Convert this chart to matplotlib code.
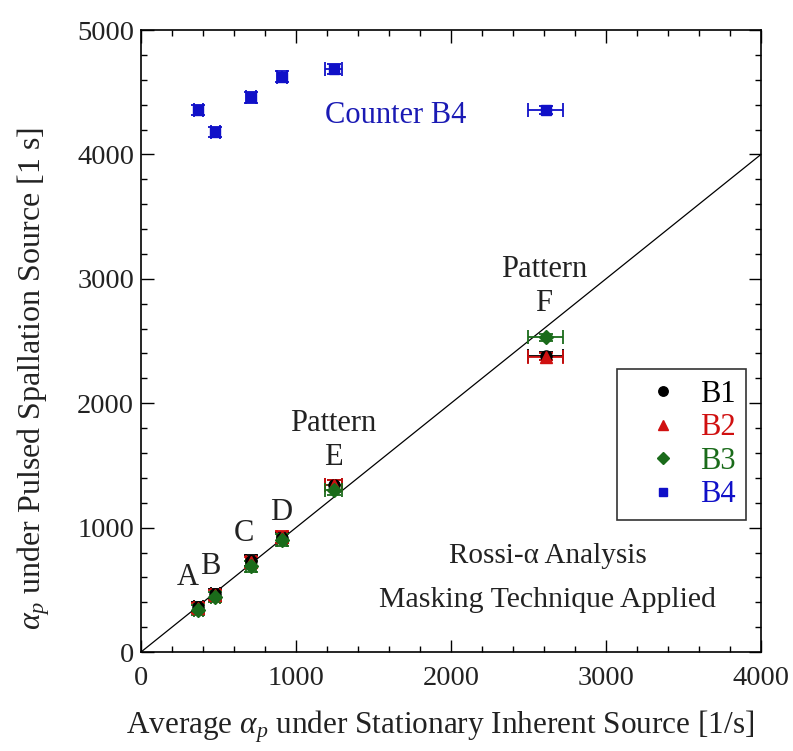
import matplotlib
matplotlib.use("Agg")
import matplotlib.pyplot as plt
from matplotlib.ticker import MultipleLocator
from matplotlib.lines import Line2D

plt.rcParams['font.family'] = ['Liberation Serif', 'DejaVu Serif']
plt.rcParams['mathtext.fontset'] = 'custom'
plt.rcParams['mathtext.rm'] = 'Liberation Serif'
plt.rcParams['mathtext.it'] = 'Liberation Serif:italic'

# Patterns A-F: average alpha under the stationary inherent source [1/s]
patterns = ["A", "B", "C", "D", "E", "F"]
x_avg = [370, 480, 710, 910, 1245, 2610]
x_err = [30, 30, 35, 35, 55, 113]

# alpha under the pulsed spallation source for each counter [1/s]
b1 = [360, 470, 735, 920, 1340, 2380]
b2 = [355, 460, 720, 925, 1345, 2375]
b3 = [335, 445, 690, 900, 1300, 2530]
b4 = [4360, 4180, 4460, 4625, 4685, 4357]
y_err = [40, 40, 45, 45, 40, 30]

series = [
    ("B1", b1, "o", "black", 8),
    ("B2", b2, "^", "#d01010", 8),
    ("B3", b3, "D", "#1a6b1a", 7),
    ("B4", b4, "s", "#1010c8", 7.5),
]

fig = plt.figure(figsize=(7.93, 7.51), dpi=100)
ax = fig.add_axes([0.1778, 0.1318, 0.7818, 0.8282])

# identity line
ax.plot([0, 4000], [0, 4000], color="black", lw=0.9)

handles = []
for name, yv, mk, col, ms in series:
    ax.errorbar(x_avg, yv, xerr=x_err, yerr=y_err, fmt=mk, color=col,
                ms=ms, capsize=5, elinewidth=1.3, capthick=1.3, zorder=3)
    handles.append(Line2D([], [], ls="none", marker=mk, color=col,
                          ms=ms * 0.85, label=name))

ax.set_xlim(0, 4000)
ax.set_ylim(0, 5000)
ax.xaxis.set_major_locator(MultipleLocator(1000))
ax.yaxis.set_major_locator(MultipleLocator(1000))
ax.xaxis.set_minor_locator(MultipleLocator(200))
ax.yaxis.set_minor_locator(MultipleLocator(200))
ax.tick_params(which="both", direction="in", top=True, right=True,
               labelsize=20.5, colors="black")
ax.tick_params(axis="x", which="major", pad=10)
ax.tick_params(axis="y", which="major", pad=5)
ax.tick_params(which="major", length=9, width=1)
ax.tick_params(which="minor", length=4.5, width=1)
for lab in ax.get_xticklabels() + ax.get_yticklabels():
    lab.set_color("#222222")
for sp in ax.spines.values():
    sp.set_linewidth(1.2)

ax.set_xlabel(r"Average $\alpha_{p}$ under Stationary Inherent Source [1/s]",
              fontsize=22.5, color="#222222")
ax.set_ylabel(r"$\alpha_{p}$ under Pulsed Spallation Source [1 s]",
              fontsize=23, color="#222222")
ax.xaxis.set_label_coords(0.482, -0.09)
ax.yaxis.set_label_coords(-0.143, 0.44)

leg = ax.legend(handles=handles, loc="upper left",
                bbox_to_anchor=(0.768, 0.455), fontsize=22,
                frameon=True, fancybox=False, edgecolor="black",
                handletextpad=0.05, borderpad=0.35, labelspacing=0.15,
                handlelength=2.3, borderaxespad=0)
leg.get_frame().set_linewidth(1.2)
for txt, (_, _, _, col, _) in zip(leg.get_texts(), series):
    txt.set_color(col)

ax.text(1645, 4310, "Counter B4", color="#1a1ab4", fontsize=22,
        ha="center", va="center")
ax.text(1240, 1700, "Pattern\nE", fontsize=22, ha="center", va="center",
        linespacing=1.25, color="#222222")
ax.text(2600, 2940, "Pattern\nF", fontsize=22, ha="center", va="center",
        linespacing=1.25, color="#222222")
for lab, lx, ly in [("A", 300, 600), ("B", 445, 690), ("C", 665, 950),
                    ("D", 905, 1125)]:
    ax.text(lx, ly, lab, fontsize=22, ha="center", va="center",
            color="#222222")
ax.text(2625, 770, "Rossi-\u03b1 Analysis", fontsize=21, ha="center",
        va="center", color="#222222")
ax.text(2625, 420, "Masking Technique Applied", fontsize=21.5, ha="center",
        va="center", color="#222222")

fig.savefig("out.png", dpi=100)
